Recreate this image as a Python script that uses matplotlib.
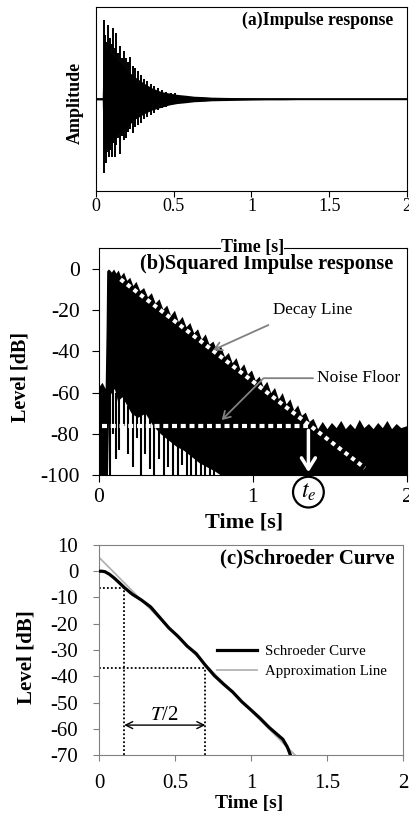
import numpy as np
import matplotlib
matplotlib.use('Agg')
import matplotlib.pyplot as plt

plt.rcParams['font.family'] = ['Liberation Serif', 'DejaVu Serif']
plt.rcParams['mathtext.fontset'] = 'stix'
plt.rcParams['axes.unicode_minus'] = False

# ---- (a) impulse response: body envelope + protruding spikes
ir_t = [0.0, 0.04, 0.045, 0.05, 0.07, 0.10, 0.14, 0.20, 0.25, 0.31, 0.36, 0.42, 0.47,
        0.52, 0.58, 0.63, 0.70, 0.74, 0.80, 0.90, 1.00, 1.10, 1.20, 1.30, 2.0]
ir_hi = [0.01, 0.01, 0.35, 0.55, 0.53, 0.48, 0.42, 0.31, 0.24, 0.17, 0.12, 0.08, 0.065,
         0.05, 0.04, 0.03, 0.025, 0.02, 0.018, 0.015, 0.012, 0.01, 0.01, 0.008, 0.008]
ir_lo = [-0.01, -0.01, -0.35, -0.55, -0.52, -0.45, -0.37, -0.30, -0.22, -0.16, -0.12, -0.09, -0.065,
         -0.05, -0.04, -0.03, -0.025, -0.02, -0.018, -0.015, -0.012, -0.01, -0.01, -0.008, -0.008]
spike_t = [0.050, 0.058, 0.066, 0.075, 0.083, 0.092, 0.100, 0.110, 0.120, 0.130, 0.140, 0.152,
           0.165, 0.178, 0.190, 0.205, 0.220, 0.236, 0.252, 0.270, 0.290, 0.310, 0.330, 0.352,
           0.375, 0.400, 0.425, 0.450, 0.480, 0.510]
spike_hi = [0.86, 0.70, 0.62, 0.80, 0.58, 0.66, 0.60, 0.77, 0.55, 0.72, 0.50, 0.58, 0.45, 0.52,
            0.44, 0.40, 0.46, 0.36, 0.34, 0.30, 0.26, 0.22, 0.20, 0.16, 0.14, 0.12, 0.10, 0.08,
            0.07, 0.06]
spike_lo = [-0.80, -0.62, -0.70, -0.58, -0.63, -0.55, -0.63, -0.48, -0.63, -0.50, -0.42, -0.60,
            -0.40, -0.45, -0.42, -0.36, -0.33, -0.37, -0.30, -0.28, -0.26, -0.22, -0.20, -0.17,
            -0.15, -0.12, -0.10, -0.09, -0.07, -0.06]

# ---- (b) squared impulse response in dB: upper edge of the black area
sq_t = [0.000, 0.020, 0.040, 0.046, 0.050, 0.060, 0.070, 0.080, 0.095, 0.110, 0.125, 0.140,
        0.160, 0.180, 0.200, 0.220, 0.240, 0.265, 0.290, 0.315, 0.340, 0.365, 0.390, 0.415,
        0.440, 0.465, 0.490, 0.515, 0.540, 0.565, 0.590, 0.615, 0.640, 0.665, 0.690, 0.715,
        0.740, 0.765, 0.790, 0.815, 0.840, 0.865, 0.890, 0.915, 0.940, 0.965, 0.990, 1.015,
        1.040, 1.065, 1.090, 1.115, 1.140, 1.165, 1.190, 1.215, 1.240, 1.265, 1.290, 1.315,
        1.340, 1.365, 1.390, 1.420, 1.450, 1.480, 1.510, 1.540, 1.570, 1.600, 1.630, 1.660,
        1.690, 1.720, 1.750, 1.780, 1.810, 1.840, 1.870, 1.900, 1.930, 1.960, 2.000]
sq_db = [-57, -55, -58, -30, -1, 0, -0.5, -1.5, 0, -2, -0.5, -3.5,
         -1.5, -5.5, -4, -8, -6, -10.5, -9, -13.5, -11.5, -16.5, -14.5, -19.5,
         -17.5, -22.5, -20, -25.5, -23, -28, -26, -31, -29, -34, -31.5, -36.5,
         -35, -39.5, -37.5, -42.5, -40.5, -45.5, -43, -48.5, -46, -51, -49, -54,
         -52, -57, -54.5, -60, -57.5, -63, -60, -65.5, -63, -68.5, -66, -71,
         -69.5, -74, -72.5, -77.5, -74, -77.5, -74.5, -77, -73.5, -77.5, -75, -77.5,
         -73, -77, -75, -77.5, -74.5, -77, -73.5, -77.5, -75, -77, -76]
# white gap below the black mass, and black drops reaching into it
gap_t = [0.055, 0.065, 0.08, 0.10, 0.12, 0.15, 0.18, 0.21, 0.25, 0.30, 0.35, 0.40, 0.45,
         0.50, 0.55, 0.60, 0.65, 0.70, 0.75, 0.79]
gap_db = [-100, -62, -60, -58, -64, -62, -66, -70, -72, -70, -76, -80, -83,
          -86, -88, -91, -94, -96, -98, -100]
drop_t = [0.070, 0.090, 0.110, 0.130, 0.160, 0.190, 0.220, 0.250, 0.275, 0.300, 0.330, 0.360,
          0.390, 0.420, 0.450, 0.480, 0.510, 0.540, 0.570, 0.600, 0.630, 0.660, 0.690, 0.720, 0.750]
drop_db = [-100, -80, -92, -88, -76, -90, -96, -82, -100, -90, -97, -100,
           -92, -100, -96, -100, -100, -95, -100, -100, -100, -100, -100, -100, -100]
decay_t = [0.14, 1.727]
decay_db = [-5.0, -96.6]
floor_t = [0.02, 1.36]
floor_db = [-76, -76]
te = 1.36

# ---- (c) Schroeder curve
sch_t = [0, 0.02, 0.04, 0.07, 0.10, 0.13, 0.17, 0.22, 0.28, 0.34, 0.40, 0.46, 0.52, 0.58,
         0.64, 0.70, 0.76, 0.82, 0.88, 0.94, 1.00, 1.06, 1.12, 1.17, 1.21, 1.24, 1.26]
sch_db = [0, 0, -0.2, -1.2, -2.6, -4.2, -6.4, -8.8, -11.0, -13.6, -17.6, -21.6, -24.8, -28.5,
          -31.4, -35.8, -39.8, -43.0, -46.0, -49.7, -52.8, -56.0, -59.5, -62.0, -64.0, -67.0, -70]
approx_t = [0, 1.29]
approx_db = [5.3, -70]
t1, t2 = 0.166, 0.70
l1, l2 = -6.5, -36.7
half_db = -58.6

fig = plt.figure(figsize=(4.09, 8.19), dpi=100)
ax1 = fig.add_axes([0.2347, 0.7668, 0.7604, 0.2247])
ax2 = fig.add_axes([0.242, 0.42, 0.753, 0.2767])
ax3 = fig.add_axes([0.242, 0.0781, 0.743, 0.2565])
ax1.set_zorder(3)

# ---------------- (a)
ax1.fill_between(ir_t, ir_lo, ir_hi, color='black', lw=0)
ax1.vlines(spike_t, spike_lo, spike_hi, color='black', lw=1.4)
ax1.plot([0, 2], [0, 0], color='black', lw=1.2)
ax1.set_xlim(0, 2)
ax1.set_ylim(-1, 1)
ax1.set_yticks([])
ax1.set_xticks([0, 0.5, 1, 1.5, 2])
ax1.set_xticklabels(['0', '0.5', '1', '1.5', '2'])
ax1.tick_params(axis='x', direction='out', length=4, width=0.8, labelsize=13, pad=1)
ax1.set_xlabel('Time [s]', fontsize=13, fontweight='bold', va='center')
ax1.xaxis.set_label_coords(0.503, -0.305)
ax1.xaxis.label.set_bbox(dict(fc='white', ec='none', pad=0))
ax1.set_ylabel('Amplitude', fontsize=13, fontweight='bold', va='center')
ax1.yaxis.set_label_coords(-0.0675, 0.477)
ax1.text(0.955, 0.929, '(a)Impulse response', transform=ax1.transAxes, ha='right',
         va='center', fontsize=12.7, fontweight='bold')

# ---------------- (b)
ax2.fill_between(sq_t, -100, sq_db, color='black', lw=0)
ax2.fill_between(gap_t, -100, gap_db, color='white', lw=0)
ax2.vlines(drop_t, drop_db, np.interp(drop_t, gap_t, gap_db) + 1, color='black', lw=1.5)
ax2.plot(decay_t, decay_db, color='white', lw=3, linestyle=(0, (1, 1)))
ax2.plot(floor_t, floor_db, color='white', lw=3, linestyle=(0, (1.2, 0.9)))
ax2.annotate('', xy=(te, -100), xytext=(te, -77),
             arrowprops=dict(arrowstyle='->,head_length=0.8,head_width=0.5', color='white', lw=2.5))
ax2.text(te, -108.3, '$t_e$', ha='center', va='center', fontsize=17, clip_on=False,
         bbox=dict(boxstyle='circle,pad=0.2', fc='white', ec='black', lw=1.6))
ax2.text(1.13, -20, 'Decay Line', ha='left', va='center', fontsize=12.3)
ax2.annotate('', xy=(0.742, -39.3), xytext=(1.10, -27.2),
             arrowprops=dict(arrowstyle='->,head_length=0.5,head_width=0.3', color='#808080', lw=1.3,
                             shrinkA=0, shrinkB=0))
ax2.text(1.415, -53, 'Noise Floor', ha='left', va='center', fontsize=12.6)
ax2.annotate('', xy=(0.797, -73.3), xytext=(1.39, -53),
             arrowprops=dict(arrowstyle='->,head_length=0.5,head_width=0.3', color='#808080', lw=1.3,
                             shrinkA=0, shrinkB=0,
                             connectionstyle='angle,angleA=0,angleB=45,rad=0'))
ax2.set_xlim(0, 2)
ax2.set_ylim(-100, 10)
ax2.set_xticks([0, 1, 2])
ax2.set_xticklabels(['0', '1', '2'])
ax2.set_yticks([0, -20, -40, -60, -80, -100])
ax2.tick_params(axis='both', direction='out', length=5, width=0.8, labelsize=15.5)
ax2.tick_params(axis='x', pad=4)
ax2.tick_params(axis='y', pad=9)
ax2.set_xlabel('Time [s]', fontsize=16, fontweight='bold', va='center')
ax2.xaxis.set_label_coords(0.47, -0.21)
ax2.set_ylabel('Level [dB]', fontsize=14.5, fontweight='bold', va='center')
ax2.yaxis.set_label_coords(-0.256, 0.434)
ax2.text(0.955, 0.93, '(b)Squared Impulse response', transform=ax2.transAxes, ha='right',
         va='center', fontsize=14.6, fontweight='bold')

# ---------------- (c)
dot = (0, (1, 1.2))
ax3.plot(approx_t, approx_db, color='#b3b3b3', lw=1.3, label='Approximation Line', zorder=2)
ax3.plot(sch_t, sch_db, color='black', lw=2.3, label='Schroeder Curve', zorder=3)
ax3.plot([0, t1], [l1, l1], color='black', lw=1.3, linestyle=dot)
ax3.plot([t1, t1], [-70, l1], color='black', lw=1.3, linestyle=dot)
ax3.plot([0, t2], [l2, l2], color='black', lw=1.3, linestyle=dot)
ax3.plot([t2, t2], [-70, l2], color='black', lw=1.3, linestyle=dot)
ax3.annotate('', xy=(t1, half_db), xytext=(t2, half_db),
             arrowprops=dict(arrowstyle='<->,head_length=0.5,head_width=0.25', color='black', lw=1,
                             shrinkA=0, shrinkB=0))
ax3.text((t1 + t2) / 2, -54.8, '$T$/2', ha='center', va='center', fontsize=15)
handles, labels = ax3.get_legend_handles_labels()
ax3.legend(handles[::-1], labels[::-1], loc='center left', bbox_to_anchor=(0.388, 0.446),
           frameon=False, fontsize=10.7, handlelength=2.7, handletextpad=0.55,
           labelspacing=0.45, borderpad=0, borderaxespad=0)
ax3.set_xlim(0, 2)
ax3.set_ylim(-70, 10)
ax3.set_xticks([0, 0.5, 1, 1.5, 2])
ax3.set_xticklabels(['0', '0.5', '1', '1.5', '2'])
ax3.set_yticks(list(range(10, -71, -10)))
ax3.tick_params(axis='both', direction='out', length=4.5, width=0.8, labelsize=15,
                color='#808080')
ax3.tick_params(axis='x', pad=9)
ax3.tick_params(axis='y', pad=10.5)
for s in ax3.spines.values():
    s.set_color('#808080')
ax3.set_xlabel('Time [s]', fontsize=14, fontweight='bold', va='center')
ax3.xaxis.set_label_coords(0.493, -0.233)
ax3.set_ylabel('Level [dB]', fontsize=15, fontweight='bold', va='center')
ax3.yaxis.set_label_coords(-0.24, 0.468)
ax3.text(0.974, 0.938, '(c)Schroeder Curve', transform=ax3.transAxes, ha='right',
         va='center', fontsize=15, fontweight='bold')

fig.savefig('out.png', dpi=100)
